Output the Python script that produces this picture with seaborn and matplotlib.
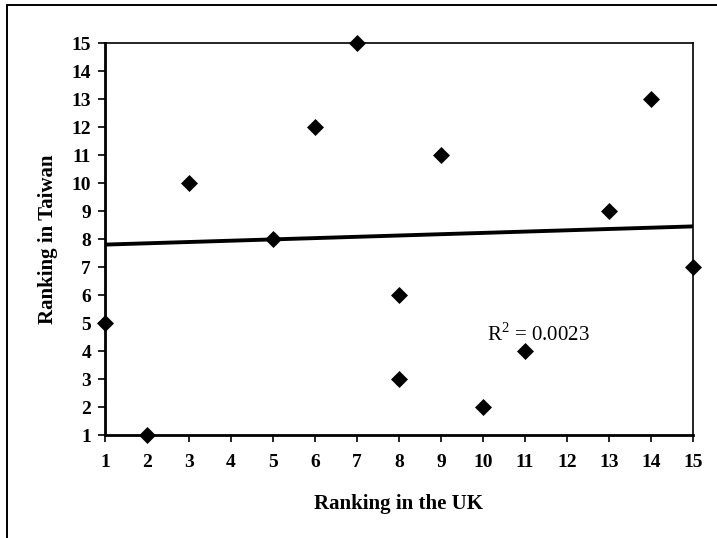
import matplotlib
matplotlib.use("Agg")
import matplotlib.pyplot as plt
from matplotlib.lines import Line2D
import seaborn as sns
import pandas as pd

# Data
uk_rank = [1, 2, 3, 5, 6, 7, 8, 8, 9, 10, 11, 13, 14, 15]
taiwan_rank = [5, 1, 10, 8, 12, 15, 6, 3, 11, 2, 4, 9, 13, 7]

# Linear trend line as printed (end values)
trend_x = [1, 15]
trend_y = [7.8, 8.45]
r2_text = "R$^2$ = 0.0023"
r2_pos = (10.1, 4.6)

ticks = list(range(1, 16))

sns.set_style("white")
plt.rcParams['font.family'] = ['Liberation Serif', 'DejaVu Serif']
plt.rcParams['mathtext.fontset'] = 'custom'
plt.rcParams['mathtext.rm'] = 'Liberation Serif'
plt.rcParams['text.color'] = 'black'
plt.rcParams['axes.labelcolor'] = 'black'
plt.rcParams['xtick.color'] = 'black'
plt.rcParams['ytick.color'] = 'black'

df = pd.DataFrame({'uk': uk_rank, 'tw': taiwan_rank})

fig = plt.figure(figsize=(7.17, 5.38), dpi=100)
ax = fig.add_axes([105 / 717, 1 - 435 / 538, (693 - 105) / 717, (435 - 43) / 538])

sns.lineplot(x=trend_x, y=trend_y, ax=ax, color='black', linewidth=2.8, zorder=2)
sns.scatterplot(data=df, x='uk', y='tw', ax=ax, marker='D', s=75, color='black',
                edgecolor='black', linewidth=0, zorder=3, clip_on=False)

ax.set_xlim(1, 15)
ax.set_ylim(1, 15)
ax.set_xticks(ticks)
ax.set_yticks(ticks)
ax.set_xticklabels([str(t) for t in ticks], fontsize=14, fontweight='bold')
ax.set_yticklabels([str(t) for t in ticks], fontsize=14, fontweight='bold')
ax.tick_params(axis='x', direction='out', length=5, width=1.2, bottom=True, pad=9)
ax.tick_params(axis='y', direction='out', length=5, width=1.2, left=True, pad=5)

for side in ['left', 'bottom']:
    ax.spines[side].set_linewidth(2.0)
    ax.spines[side].set_color('black')
for side in ['top', 'right']:
    ax.spines[side].set_linewidth(1.2)
    ax.spines[side].set_color('black')
    ax.spines[side].set_visible(True)

ax.set_xlabel('Ranking in the UK', fontsize=15, fontweight='bold', labelpad=16)
ax.set_ylabel('Ranking in Taiwan', fontsize=15, fontweight='bold', labelpad=10)

ax.text(r2_pos[0], r2_pos[1], r2_text, fontsize=15, va='center', ha='left')

# outer chart frame (left and top edges visible)
fig.add_artist(Line2D([7 / 717, 7 / 717], [0, 1 - 5 / 538], transform=fig.transFigure,
                      color='black', linewidth=1.4))
fig.add_artist(Line2D([7 / 717, 1], [1 - 5 / 538, 1 - 5 / 538], transform=fig.transFigure,
                      color='black', linewidth=1.4))

fig.savefig('out.png', dpi=100)
